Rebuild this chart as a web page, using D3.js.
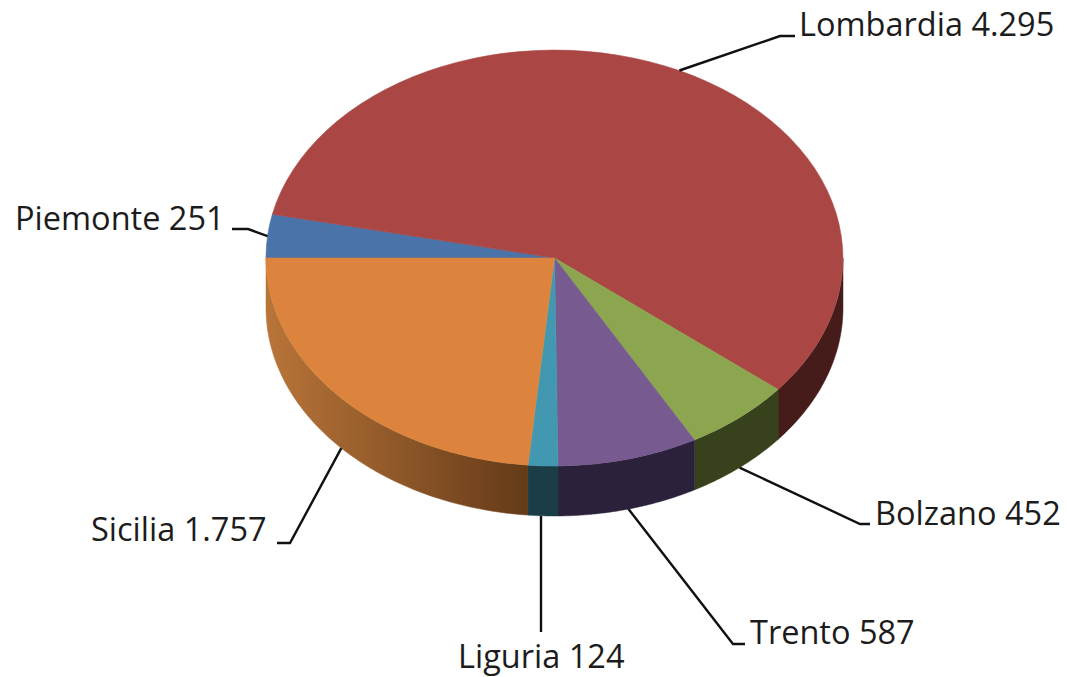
<!DOCTYPE html>
<html><head><meta charset="utf-8">
<script src="https://cdnjs.cloudflare.com/ajax/libs/d3/7.8.5/d3.min.js"></script>
<style>html,body{margin:0;background:#fff}svg{display:block}text{font-family:"Open Sans",sans-serif;font-size:32.5px;fill:#1c1c1c}</style>
</head><body><svg id="c" width="1067" height="677"></svg>
<script>
const regions=["Piemonte","Lombardia","Bolzano","Trento","Liguria","Sicilia"];
const values=[251,4295,452,587,124,1757];
const valueLabels=["251","4.295","452","587","124","1.757"];
const topColors=["#4a74a9","#aa4644","#8ca64f","#765a90","#4298b0","#dc843d"];
const wallStart=["#2c4565","#451c1a","#37421d","#2b213a","#1a3d47","#b97539"];
const wallEnd=["#2c4565","#451c1a","#37421d","#2b213a","#1a3d47","#643a18"];
// label anchor (x, baseline) and leader elbow
const labelX=[15,799,875,750,458,91];
const labelY=[230,36,525,644,668,541];
const elbows=[[[248,229],[232,229]],[[780,36],[795,36]],[[860,524],[870,524]],[[733,644],[745,644]],[[541,632]],[[290,543],[277,543]]];

const cx=554.5,cy=258,rx=288.5,ry=208,depth=50;
const svg=d3.select("#c");
const defs=svg.append("defs");
const pie=d3.pie().sort(null).startAngle(-Math.PI/2).endAngle(1.5*Math.PI);
const arcs=pie(values);
const px=a=>cx+rx*Math.sin(a), py=a=>cy-ry*Math.cos(a);

// side walls: only the front half (PI/2..3PI/2 clockwise from top) is visible
const wallG=svg.append("g");
arcs.forEach((d,i)=>{
  let a0=d.startAngle,a1=d.endAngle;
  a0=Math.max(a0,Math.PI/2);a1=Math.min(a1,1.5*Math.PI);
  if(a1<=a0)return;
  const id="w"+i;
  const g=defs.append("linearGradient").attr("id",id).attr("gradientUnits","userSpaceOnUse")
    .attr("x1",px(a1)).attr("x2",px(a0)).attr("y1",0).attr("y2",0);
  g.append("stop").attr("offset",0).attr("stop-color",wallStart[i]);
  g.append("stop").attr("offset",1).attr("stop-color",wallEnd[i]);
  const p=d3.path();
  p.moveTo(px(a0),py(a0));
  p.lineTo(px(a0),py(a0)+depth);
  const n=80;
  for(let k=1;k<=n;k++){const t=a0+(a1-a0)*k/n;p.lineTo(px(t),py(t)+depth);}
  p.lineTo(px(a1),py(a1));
  for(let k=n-1;k>=0;k--){const t=a0+(a1-a0)*k/n;p.lineTo(px(t),py(t));}
  p.closePath();
  wallG.append("path").attr("d",p.toString()).attr("fill",`url(#${id})`)
    .attr("stroke",`url(#${id})`).attr("stroke-width",0.5);
});

// top face
const arc=d3.arc().innerRadius(0).outerRadius(1);
svg.append("g").attr("transform",`translate(${cx},${cy}) scale(${rx},${ry})`)
  .selectAll("path").data(arcs).join("path").attr("d",arc)
  .attr("fill",(d,i)=>topColors[i]).attr("stroke",(d,i)=>topColors[i])
  .attr("stroke-width",0.6).attr("vector-effect","non-scaling-stroke");

// leaders
const line=d3.line();
arcs.forEach((d,i)=>{
  const m=(d.startAngle+d.endAngle)/2;
  const front=Math.cos(m)<0;
  const pts=elbows[i];
  const start=[pts.length===1?pts[0][0]:px(m),py(m)+(front?depth:0)];
  svg.append("path").attr("d",line([start,...pts])).attr("fill","none").attr("stroke","#111").attr("stroke-width",2.4);
});
// labels
svg.append("g").selectAll("text").data(regions).join("text")
  .attr("x",(d,i)=>labelX[i]).attr("y",(d,i)=>labelY[i])
  .text((d,i)=>d+" "+valueLabels[i]);
</script></body></html>
